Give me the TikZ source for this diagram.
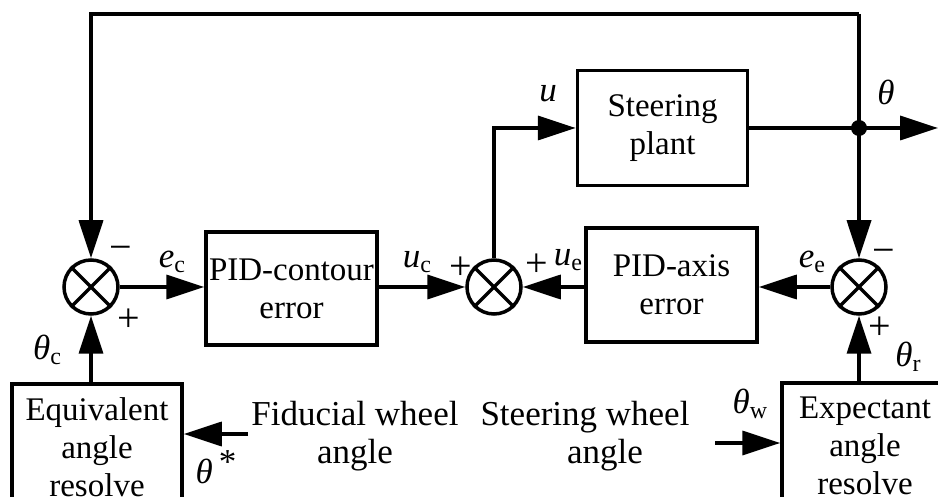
\documentclass[tikz,border=0pt]{standalone}
\usepackage{fontspec}
\setmainfont{Liberation Serif}
\usetikzlibrary{arrows.meta}
\newcommand{\vl}[2]{{\itshape #1}\raisebox{-0.3ex}{\fontsize{24}{24}\selectfont #2}}
\tikzset{
  blk/.style={draw, line width=3.5pt, align=center, inner sep=0pt, font=\fontsize{33}{38}\selectfont},
  sumj/.style={circle, draw, line width=3.5pt, minimum size=54pt, inner sep=0pt},
  arr/.style={line width=3.5pt, -{Triangle[length=38pt,width=24pt]}},
  ln/.style={line width=3.5pt},
  lbl/.style={inner sep=0pt, font=\fontsize{35}{38}\selectfont},
  sgn/.style={inner sep=0pt, font=\fontsize{40}{40}\selectfont}
}
\begin{document}
\begin{tikzpicture}[x=1pt,y=-1pt]
\useasboundingbox (0,0) rectangle (938,497);
% blocks
\node[blk, minimum width=171pt, minimum height=113pt] (pidc) at (291.5,288.5) {PID-contour\\error};
\node[blk, minimum width=171pt, minimum height=114pt] (pida) at (671.5,285) {PID-axis\\error};
\node[blk, minimum width=170pt, minimum height=115pt] (plant) at (662.5,128) {Steering\\plant};
\node[blk, minimum width=170pt, minimum height=126pt] (eq) at (97,447) {Equivalent\\angle\\resolve};
\node[blk, minimum width=166pt, minimum height=126pt] (ex) at (865,446) {Expectant\\angle\\resolve};
% summing junctions
\foreach \n/\x in {s1/91, s2/494, s3/859} {
  \node[sumj] (\n) at (\x,287) {};
  \draw[ln] (\n.north west) -- (\n.south east);
  \draw[ln] (\n.north east) -- (\n.south west);
}
% coordinates
\coordinate (tl) at (91,14);
\coordinate (tr) at (859,14);
\coordinate (dot) at (859,128);
\coordinate (out) at (938,128);
\coordinate (fa) at (248,434);
\coordinate (sw) at (715,443);
% connectors
\draw[arr] (s1.east) -- (s1 -| pidc.west);
\draw[arr] (pidc.east |- s2) -- (s2.west);
\draw[arr] (pida.west |- s2) -- (s2.east);
\draw[arr] (s3.west) -- (s3 -| pida.east);
\draw[arr] (s2.north) |- (plant.west);
\draw[ln] (plant.east) -- (dot);
\draw[arr] (dot) -- (out);
\draw[arr] (tr) -- (s3.north);
\draw[arr] (tr) -- (tl) -- (s1.north);
\fill (dot) circle [radius=8pt];
\draw[arr] (s1 |- eq.north) -- (s1.south);
\draw[arr] (s3 |- ex.north) -- (s3.south);
\draw[arr] (fa) -- (fa -| eq.east);
\draw[arr] (sw) -- (sw -| ex.west);
% signs
\node[sgn] (m1) at (121,253) {−};
\node[sgn] (p1) at (129,320) {+};
\node[sgn] (p2) at (461,268) {+};
\node[sgn] (p3) at (537,265) {+};
\node[sgn] (m3) at (884,256) {−};
\node[sgn] (p4) at (880,328) {+};
% labels
\node[lbl] (ec) at (172,262) {\vl{e}{c}};
\node[lbl] (thc) at (47,350) {\vl{θ}{c}};
\node[lbl] (uc) at (417,262) {\vl{u}{c}};
\node[lbl] (ue) at (568,260) {\vl{u}{e}};
\node[lbl] (ee) at (812,262) {\vl{e}{e}};
\node[lbl] (thr) at (908,357) {\vl{θ}{r}};
\node[lbl] (u) at (548,94) {\itshape u};
\node[lbl] (th) at (886,92) {\itshape θ};
\node[lbl] (thw) at (750,404) {\vl{θ}{w}};
\node[lbl] (ths) at (216,467) {{\itshape θ}\,\raisebox{0.6ex}{*}};
\node[lbl, align=center] (fid) at (355,436) {Fiducial wheel\\angle};
\node[lbl, align=center] (stw) at (585,436) {Steering wheel\\\hspace*{40pt}angle};
\end{tikzpicture}
\end{document}
